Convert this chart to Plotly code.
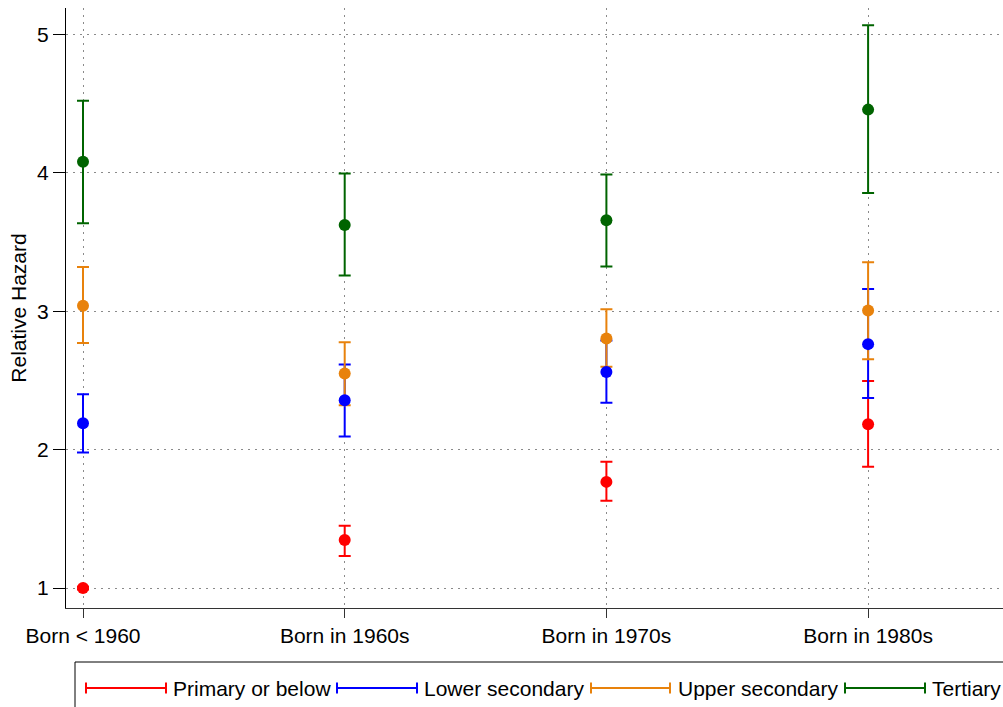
import plotly.graph_objects as go

categories = ["Born < 1960", "Born in 1960s", "Born in 1970s", "Born in 1980s"]
series_names = ["Primary or below", "Lower secondary", "Upper secondary", "Tertiary"]
colors = ["#ff0000", "#0000ff", "#e8820c", "#006400"]

primary_est = [1.00, 1.347, 1.767, 2.184]
primary_lo = [0.99, 1.231, 1.630, 1.876]
primary_hi = [1.01, 1.450, 1.912, 2.495]

lower_est = [2.19, 2.357, 2.560, 2.762]
lower_lo = [1.98, 2.095, 2.338, 2.372]
lower_hi = [2.40, 2.615, 2.789, 3.161]

upper_est = [3.04, 2.550, 2.803, 3.005]
upper_lo = [2.77, 2.321, 2.598, 2.653]
upper_hi = [3.32, 2.776, 3.014, 3.354]

tert_est = [4.08, 3.623, 3.657, 4.456]
tert_lo = [3.635, 3.257, 3.323, 3.854]
tert_hi = [4.52, 3.994, 3.987, 5.065]

est = [primary_est, lower_est, upper_est, tert_est]
lo = [primary_lo, lower_lo, upper_lo, tert_lo]
hi = [primary_hi, lower_hi, upper_hi, tert_hi]

xpos = list(range(len(categories)))
FONT = "Liberation Sans, Arial, sans-serif"

fig = go.Figure()
# error bars (drawn first)
for name, c, e, l, h in zip(series_names, colors, est, lo, hi):
    fig.add_trace(go.Scatter(
        x=xpos, y=e, mode="markers", name=name, showlegend=False,
        marker=dict(size=1, color="rgba(0,0,0,0)"),
        error_y=dict(type="data", symmetric=False,
                     array=[hh - ee for hh, ee in zip(h, e)],
                     arrayminus=[ee - ll for ee, ll in zip(e, l)],
                     color=c, thickness=2, width=6),
        hoverinfo="skip"))
# point estimates
for name, c, e in zip(series_names, colors, est):
    fig.add_trace(go.Scatter(
        x=xpos, y=e, mode="markers", name=name, showlegend=False,
        marker=dict(size=12, color=c, line=dict(width=0))))

W, H = 1003, 707
ml, mr, mt, mb = 66, 0, 8, 99
pw = W - ml - mr
x0px, step = 17, 261.7

fig.update_layout(
    width=W, height=H,
    margin=dict(l=ml, r=mr, t=mt, b=mb),
    paper_bgcolor="white", plot_bgcolor="white",
    font=dict(family=FONT, size=21, color="black"),
    showlegend=False,
    xaxis=dict(range=[-x0px / step, (pw - x0px) / step],
               tickvals=xpos, ticktext=categories,
               showgrid=True, gridcolor="#8a8a8a", griddash="2px,5px", gridwidth=1,
               zeroline=False, showline=True, linecolor="#333333", linewidth=1,
               ticks="outside", ticklen=9, tickcolor="#333333",
               tickfont=dict(size=21)),
    yaxis=dict(range=[0.856, 5.19], tickvals=[1, 2, 3, 4, 5],
               showgrid=True, gridcolor="#8a8a8a", griddash="2px,5px", gridwidth=1,
               zeroline=False, showline=True, linecolor="black", linewidth=1,
               ticks="outside", ticklen=12, tickcolor="black",
               tickfont=dict(size=21),
               title=dict(text="Relative Hazard", font=dict(size=21), standoff=4)),
)

# manual legend box (paper coordinates)
def px_x(p):
    return (p - ml) / pw

def px_y(p):
    return (H - mb - p) / (H - mt - mb)

fig.add_shape(type="rect", xref="paper", yref="paper",
              x0=px_x(75), x1=px_x(1010), y0=px_y(662), y1=px_y(712),
              line=dict(color="black", width=1), fillcolor="white", layer="above")

legend_items = [(86, 166, 171), (337, 417, 422), (591, 670, 676), (845, 925, 930)]
ly = 688
for (xa, xb, xt), name, c in zip(legend_items, series_names, colors):
    fig.add_shape(type="line", xref="paper", yref="paper",
                  x0=px_x(xa), x1=px_x(xb), y0=px_y(ly), y1=px_y(ly),
                  line=dict(color=c, width=2))
    for xx in (xa, xb):
        fig.add_shape(type="line", xref="paper", yref="paper",
                      x0=px_x(xx), x1=px_x(xx), y0=px_y(ly - 5.5), y1=px_y(ly + 5.5),
                      line=dict(color=c, width=2))
    fig.add_annotation(xref="paper", yref="paper", x=px_x(xt), y=px_y(ly),
                       text=name, showarrow=False, xanchor="left", yanchor="middle",
                       font=dict(size=21, color="black"))

fig.write_html("out.html")
